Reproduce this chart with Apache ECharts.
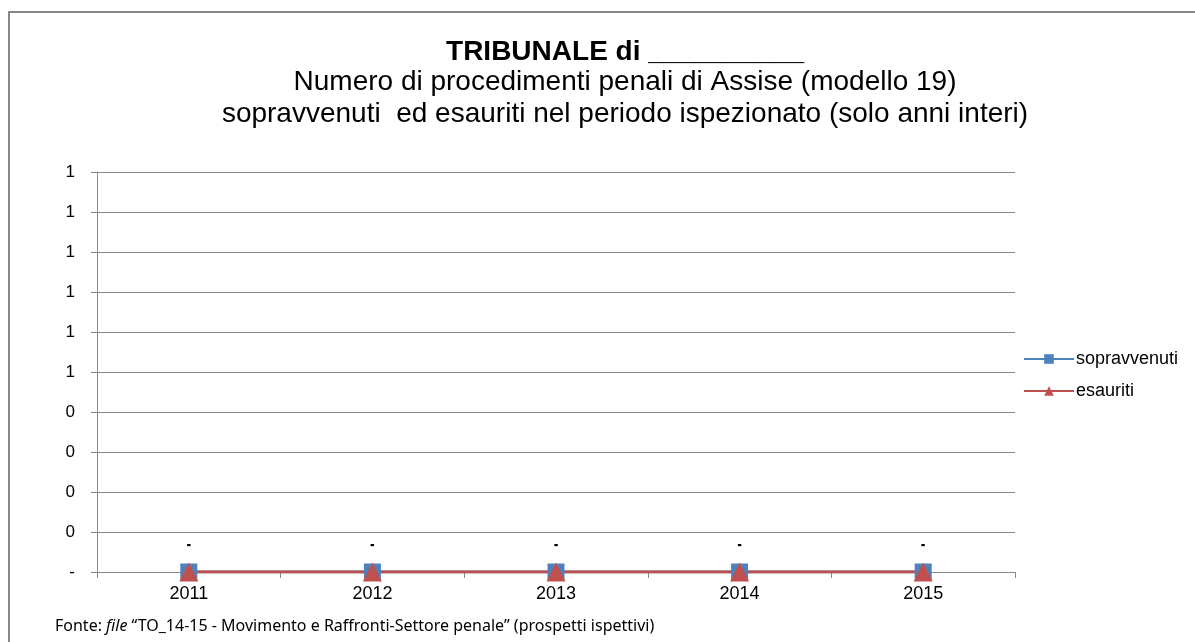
<!DOCTYPE html>
<html>
<head>
<meta charset="utf-8">
<script src="https://cdn.jsdelivr.net/npm/echarts@6/dist/echarts.min.js"></script>
<style>html,body{margin:0;padding:0;background:#fff}#c{width:1195px;height:642px}</style>
</head>
<body>
<div id="c"></div>
<script>
const categories = ['2011', '2012', '2013', '2014', '2015'];
const sopravvenuti = [0, 0, 0, 0, 0];
const esauriti = [0, 0, 0, 0, 0];
const seriesNames = ['sopravvenuti', 'esauriti'];
const titleText = 'TRIBUNALE di __________';
const subtitleLines = ['Numero di procedimenti penali di Assise (modello 19)', 'sopravvenuti  ed esauriti nel periodo ispezionato (solo anni interi)'];

const chart = echarts.init(document.getElementById('c'));
const fmtVal = v => (Math.abs(v) < 1e-9 ? '-' : String(Math.round(v)));
chart.setOption({
  animation: false,
  backgroundColor: '#fff',
  graphic: [
    { type: 'rect', shape: { x: 9, y: 12, width: 1300, height: 700 }, style: { fill: 'none', stroke: '#888', lineWidth: 2 }, silent: true },
    { type: 'text', left: 55, top: 618, style: { text: '{n|Fonte: }{i|file}{n| \u201CTO_14-15 - Movimento e Raffronti-Settore penale\u201D (prospetti ispettivi)}',
      rich: { n: { fontFamily: 'Noto Sans', fontSize: 16, fill: '#000' }, i: { fontFamily: 'Noto Sans', fontSize: 16, fontStyle: 'italic', fill: '#000' } } } }
  ],
  title: [
    { text: titleText, left: 620, top: 33, textAlign: 'center', textStyle: { fontFamily: 'Liberation Sans', fontSize: 28, fontWeight: 'bold', color: '#000' } },
    { text: subtitleLines.join('\n'), left: 620, top: 61, textAlign: 'center', textStyle: { fontFamily: 'Liberation Sans', fontSize: 28, fontWeight: 'normal', color: '#000', lineHeight: 32 } }
  ],
  legend: {
    orient: 'vertical', left: 1023, top: 350, padding: 0, itemWidth: 50, itemHeight: 12, itemGap: 14,
    textStyle: { fontFamily: 'Liberation Sans', fontSize: 18, color: '#000', padding: [0, 0, 0, -3] },
    data: seriesNames
  },
  grid: { left: 97, right: 180, top: 172, bottom: 70 },
  xAxis: {
    type: 'category', data: categories, boundaryGap: true,
    axisLine: { lineStyle: { color: '#888', width: 1 } },
    axisTick: { show: true, length: 6, lineStyle: { color: '#888' } },
    axisLabel: { fontFamily: 'Liberation Sans', fontSize: 18, color: '#000', margin: 13 }
  },
  yAxis: {
    type: 'value', min: 0, max: 1, interval: 0.1,
    axisLine: { show: true, lineStyle: { color: '#888' } },
    axisTick: { show: true, length: 6, lineStyle: { color: '#888' } },
    splitLine: { lineStyle: { color: '#888', width: 1 } },
    axisLabel: { formatter: fmtVal, fontFamily: 'Liberation Sans', fontSize: 17, color: '#000', margin: 22 }
  },
  series: [
    { name: seriesNames[0], type: 'line', data: sopravvenuti, color: '#4F81BD',
      symbol: 'rect', symbolSize: 17, lineStyle: { width: 3, color: '#4F81BD' }, itemStyle: { color: '#4F81BD' },
      label: { show: true, position: 'top', distance: 10, formatter: p => fmtVal(p.value), fontFamily: 'Liberation Sans', fontSize: 14, color: '#000' } },
    { name: seriesNames[1], type: 'line', data: esauriti, color: '#C0504D',
      symbol: 'triangle', symbolSize: 19, lineStyle: { width: 3, color: '#C0504D' }, itemStyle: { color: '#C0504D' },
      label: { show: true, position: 'top', distance: 10, formatter: p => fmtVal(p.value), fontFamily: 'Liberation Sans', fontSize: 14, color: '#000' } }
  ]
});
</script>
</body>
</html>
